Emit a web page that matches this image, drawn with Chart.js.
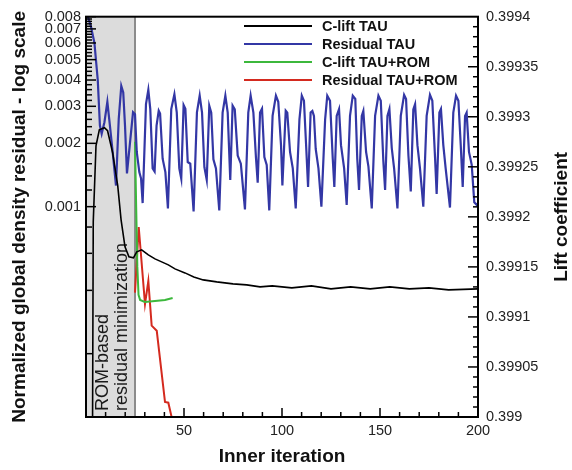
<!DOCTYPE html>
<html>
<head>
<meta charset="utf-8">
<script src="https://cdn.jsdelivr.net/npm/chart.js@4.4.0/dist/chart.umd.min.js"></script>
<style>
  html, body { margin: 0; padding: 0; background: #fff; }
  #wrap { width: 572px; height: 470px; }
</style>
</head>
<body>
<div id="wrap"><canvas id="chart" width="572" height="470"></canvas></div>
<script>
// --- data: [inner iteration, value] ---

// lift coefficient, plain TAU run (right axis)
const cliftTau = [
    [3.0, 0.39880], [3.7, 0.399195], [5.1, 0.399271], [6.8, 0.399287], [9.4, 0.399289],
    [11.0, 0.399286], [13.6, 0.399264], [16.2, 0.399231], [17.9, 0.399197], [19.9, 0.399170],
    [21.9, 0.399160], [24.2, 0.399159], [25.9, 0.399165], [28.4, 0.399167], [31.8, 0.399162],
    [35.2, 0.399158], [38.6, 0.399155], [42.0, 0.399152], [45.4, 0.399148], [50.5, 0.399144],
    [55.0, 0.399140], [59.8, 0.399137], [66.7, 0.399135], [75.0, 0.399133], [82.0, 0.399132],
    [88.8, 0.399130], [95.0, 0.399131], [105.0, 0.399129], [115.0, 0.399131],
    [125.0, 0.399128], [135.0, 0.399130], [145.0, 0.399128], [155.0, 0.399130], [165.0, 0.399128],
    [175.0, 0.399129], [185.0, 0.399127], [200.0, 0.399128]
];

// normalized density residual, plain TAU run (left log axis)
const residualTau = [
    [1.0, 0.0080], [2.5, 0.0072], [4.3, 0.0060], [6.0, 0.0040], [7.1, 0.00243], [8.0, 0.00222],
    [9.4, 0.00252], [10.9, 0.00315], [12.2, 0.00243], [13.6, 0.00182], [15.3, 0.00126], [16.7, 0.00261],
    [18.0, 0.00375], [19.0, 0.00349], [19.9, 0.00243], [20.9, 0.00144], [22.3, 0.00195], [24.0, 0.00281],
    [25.0, 0.00275], [25.9, 0.00182], [27.2, 0.00146], [28.1, 0.00136], [28.9, 0.00104], [30.6, 0.00307],
    [31.8, 0.00359], [32.8, 0.00291], [34.0, 0.00152], [35.0, 0.00147], [36.0, 0.00243], [37.1, 0.00286],
    [37.8, 0.00277], [39.1, 0.00169], [40.5, 0.00146], [41.8, 0.00098], [43.5, 0.00291], [45.1, 0.00342],
    [46.3, 0.00281], [47.6, 0.00152], [48.6, 0.00136], [49.8, 0.00304], [50.7, 0.00292], [51.9, 0.00163],
    [53.2, 0.00160], [54.9, 0.00095], [56.6, 0.00281], [58.0, 0.00337], [59.2, 0.00280], [60.4, 0.00154],
    [61.6, 0.00134], [62.9, 0.00302], [63.9, 0.00280], [65.0, 0.00168], [66.3, 0.00152], [68.0, 0.00096],
    [69.7, 0.00280], [71.1, 0.00337], [72.3, 0.00280], [73.6, 0.00134], [74.8, 0.00302], [75.9, 0.00290],
    [77.4, 0.00175], [79.0, 0.00160], [81.1, 0.00097], [82.8, 0.00280], [84.0, 0.00337], [85.4, 0.00280],
    [86.7, 0.00172], [87.6, 0.00130], [88.8, 0.00280], [89.8, 0.00292], [91.0, 0.00172], [92.2, 0.00158],
    [93.5, 0.00096], [95.2, 0.00270], [96.9, 0.00337], [98.1, 0.00315], [99.5, 0.00196], [100.2, 0.00126],
    [101.9, 0.00286], [102.7, 0.00280], [104.1, 0.00182], [105.5, 0.00152], [107.0, 0.00098], [108.9, 0.00260],
    [110.1, 0.00337], [111.2, 0.00319], [112.3, 0.00196], [113.3, 0.00124], [114.6, 0.00280], [115.5, 0.00285],
    [116.3, 0.00270], [117.2, 0.00188], [118.6, 0.00152], [120.1, 0.00100], [122.0, 0.00260], [123.1, 0.00337],
    [124.5, 0.00319], [125.9, 0.00169], [126.7, 0.00124], [127.9, 0.00270], [129.1, 0.00291], [130.1, 0.00196],
    [131.7, 0.00152], [133.0, 0.00102], [134.7, 0.00270], [136.1, 0.00337], [137.4, 0.00325], [138.4, 0.00169],
    [139.3, 0.00120], [140.7, 0.00270], [141.5, 0.00285], [142.9, 0.00182], [144.1, 0.00155], [145.8, 0.00098],
    [147.5, 0.00270], [149.2, 0.00337], [150.4, 0.00319], [151.7, 0.00165], [152.6, 0.00120], [153.8, 0.00270],
    [154.8, 0.00291], [156.0, 0.00190], [157.2, 0.00152], [158.9, 0.00098], [160.6, 0.00270], [162.3, 0.00340],
    [163.3, 0.00325], [164.5, 0.00175], [165.7, 0.00118], [167.0, 0.00290], [167.9, 0.00307], [169.1, 0.00196],
    [170.4, 0.00152], [172.1, 0.00100], [173.8, 0.00270], [175.5, 0.00340], [176.7, 0.00319], [178.1, 0.00170],
    [178.9, 0.00115], [180.3, 0.00280], [181.1, 0.00291], [182.3, 0.00196], [183.5, 0.00152], [185.7, 0.00099],
    [187.4, 0.00280], [188.8, 0.00337], [190.0, 0.00319], [191.2, 0.00196], [192.2, 0.00124], [193.4, 0.00270],
    [194.2, 0.00280], [195.4, 0.00182], [196.8, 0.00158], [198.1, 0.00105], [199.3, 0.00102], [200.0, 0.00104]
];

// TAU+ROM run, starts after the ROM step at iteration 25
const cliftTauRom = [
    [25.0, 0.399275], [25.6, 0.399210], [26.2, 0.399150], [26.8, 0.399122], [27.6, 0.399117],
    [30.0, 0.399115], [35.2, 0.399116], [40.3, 0.399117], [44.2, 0.399119]
];
const residualTauRom = [
    [25.0, 0.00039], [26.9, 0.00080], [30.1, 0.000344], [31.8, 0.000443], [33.5, 0.000272],
    [36.1, 0.000257], [40.3, 0.000118], [42.0, 0.000117], [44.8, 0.000090]
];

const seriesLabels = ['C-lift TAU', 'Residual TAU', 'C-lift TAU+ROM', 'Residual TAU+ROM'];
const seriesColors = ['#000000', '#3337a5', '#3cb83c', '#d42a1f'];

const xTicks = [50, 100, 150, 200];
const leftTicks = [0.001, 0.002, 0.003, 0.004, 0.005, 0.006, 0.007, 0.008];
const leftTickLabels = ['0.001', '0.002', '0.003', '0.004', '0.005', '0.006', '0.007', '0.008'];
const rightTicks = [0.399, 0.39905, 0.3991, 0.39915, 0.3992, 0.39925, 0.3993, 0.39935, 0.3994];
const rightTickLabels = ['0.399', '0.39905', '0.3991', '0.39915', '0.3992', '0.39925', '0.3993', '0.39935', '0.3994'];

const romWindow = [0, 25];
const romNote = ['ROM-based', 'residual minimization'];
const xTitle = 'Inner iteration';
const leftTitle = 'Normalized global density residual - log scale';
const rightTitle = 'Lift coefficient';

// --- drawing helpers ---

const FONT = '"Liberation Sans", Arial, Helvetica, sans-serif';

function toPoints(rows) {
    return rows.map(r => ({ x: r[0], y: r[1] }));
}

function tickLine(ctx, x1, y1, x2, y2) {
    ctx.beginPath();
    ctx.moveTo(x1, y1);
    ctx.lineTo(x2, y2);
    ctx.stroke();
}

// grey box marking the ROM-based minimization window
const romZone = {
    id: 'romZone',
    beforeDatasetsDraw(chart) {
        const { ctx, chartArea: a, scales: { x } } = chart;
        const x0 = x.getPixelForValue(romWindow[0]);
        const x1 = x.getPixelForValue(romWindow[1]);
        ctx.save();
        ctx.fillStyle = '#dcdcdc';
        ctx.fillRect(x0, a.top, x1 - x0, a.bottom - a.top);
        ctx.strokeStyle = '#8c8c8c';
        ctx.lineWidth = 2;
        tickLine(ctx, x1, a.top, x1, a.bottom);
        ctx.fillStyle = '#1a1a1a';
        ctx.font = '18px ' + FONT;
        ctx.textAlign = 'left';
        ctx.textBaseline = 'middle';
        romNote.forEach((line, i) => {
            ctx.save();
            ctx.translate(x0 + 17.5 + i * 18.5, a.bottom - 6);
            ctx.rotate(-Math.PI / 2);
            ctx.fillText(line, 0, 0);
            ctx.restore();
        });
        ctx.restore();
    }
};

// frame, inward ticks, legend and right axis title
const decorations = {
    id: 'decorations',
    afterDatasetsDraw(chart) {
        const { ctx, chartArea: a, scales } = chart;
        ctx.save();
        ctx.strokeStyle = '#000';
        ctx.lineWidth = 1.5;

        for (let k = 1; k < 20; k++) {
            const px = scales.x.getPixelForValue(k * 10);
            tickLine(ctx, px, a.bottom, px, a.bottom - (k % 5 === 0 ? 9 : 5));
        }
        for (let k = 1; k <= 40; k++) {
            const py = scales.y.getPixelForValue(k * 0.0002);
            tickLine(ctx, a.left, py, a.left + (k % 5 === 0 ? 10 : 6), py);
        }
        for (let k = 1; k < 40; k++) {
            const py = scales.y1.getPixelForValue(0.399 + k * 0.00001);
            tickLine(ctx, a.right, py, a.right - (k % 5 === 0 ? 10 : 5), py);
        }

        ctx.lineWidth = 2;
        ctx.strokeRect(a.left, a.top, a.right - a.left, a.bottom - a.top);

        // legend
        ctx.font = 'bold 14.5px ' + FONT;
        ctx.textAlign = 'left';
        ctx.textBaseline = 'middle';
        chart.data.datasets.forEach((ds, i) => {
            const y = 26 + i * 18;
            ctx.strokeStyle = ds.borderColor;
            ctx.lineWidth = 2;
            tickLine(ctx, 244, y, 312, y);
            ctx.fillStyle = '#111';
            ctx.fillText(ds.label, 322, y + 1);
        });

        // right axis title reads bottom-to-top, like the left one
        ctx.font = 'bold 19px ' + FONT;
        ctx.textAlign = 'center';
        ctx.fillStyle = '#111';
        ctx.translate(562, (a.top + a.bottom) / 2);
        ctx.rotate(-Math.PI / 2);
        ctx.fillText(rightTitle, 0, 0);
        ctx.restore();
    }
};

const tickFont = { family: FONT, size: 14.5 };
const titleFont = { family: FONT, size: 19, weight: 'bold' };
const noGrid = { display: false, drawTicks: false, tickLength: 0 };

const ctx = document.getElementById('chart').getContext('2d');
new Chart(ctx, {
    type: 'line',
    data: {
        datasets: [cliftTau, residualTau, cliftTauRom, residualTauRom].map((rows, i) => ({
            label: seriesLabels[i],
            data: toPoints(rows),
            yAxisID: i % 2 === 0 ? 'y1' : 'y',
            borderColor: seriesColors[i],
            borderWidth: i === 1 ? 2.2 : (i === 0 ? 1.6 : 2),
            pointRadius: 0,
            tension: 0,
            fill: false,
            clip: 0
        }))
    },
    options: {
        responsive: false,
        animation: false,
        layout: { padding: { top: 12, left: 0, right: 0, bottom: 0 } },
        plugins: { legend: { display: false }, tooltip: { enabled: false } },
        scales: {
            x: {
                type: 'linear', min: 0, max: 200,
                afterBuildTicks: s => { s.ticks = xTicks.map(v => ({ value: v })); },
                afterFit: s => { s.height = 53; },
                ticks: { autoSkip: false, maxRotation: 0, padding: 5, color: '#222', font: tickFont },
                grid: noGrid,
                border: { display: false },
                title: { display: true, text: xTitle, color: '#111', font: titleFont, padding: { top: 0, bottom: 2 } }
            },
            y: {
                type: 'logarithmic', position: 'left', min: 0.0001, max: 0.008,
                afterBuildTicks: s => { s.ticks = leftTicks.map(v => ({ value: v })); },
                afterFit: s => { s.width = 86; },
                ticks: { autoSkip: false, padding: 5, color: '#222', font: tickFont,
                         callback: (v, i) => leftTickLabels[i] },
                grid: noGrid,
                border: { display: false },
                title: { display: true, text: leftTitle, color: '#111', font: titleFont, padding: { top: 8, bottom: 0 } }
            },
            y1: {
                type: 'linear', position: 'right', min: 0.399, max: 0.3994,
                afterBuildTicks: s => { s.ticks = rightTicks.map(v => ({ value: v })); },
                afterFit: s => { s.width = 94; },
                ticks: { autoSkip: false, padding: 8, color: '#222', font: tickFont,
                         callback: (v, i) => rightTickLabels[i] },
                grid: noGrid,
                border: { display: false }
            }
        }
    },
    plugins: [romZone, decorations]
});
</script>
</body>
</html>
